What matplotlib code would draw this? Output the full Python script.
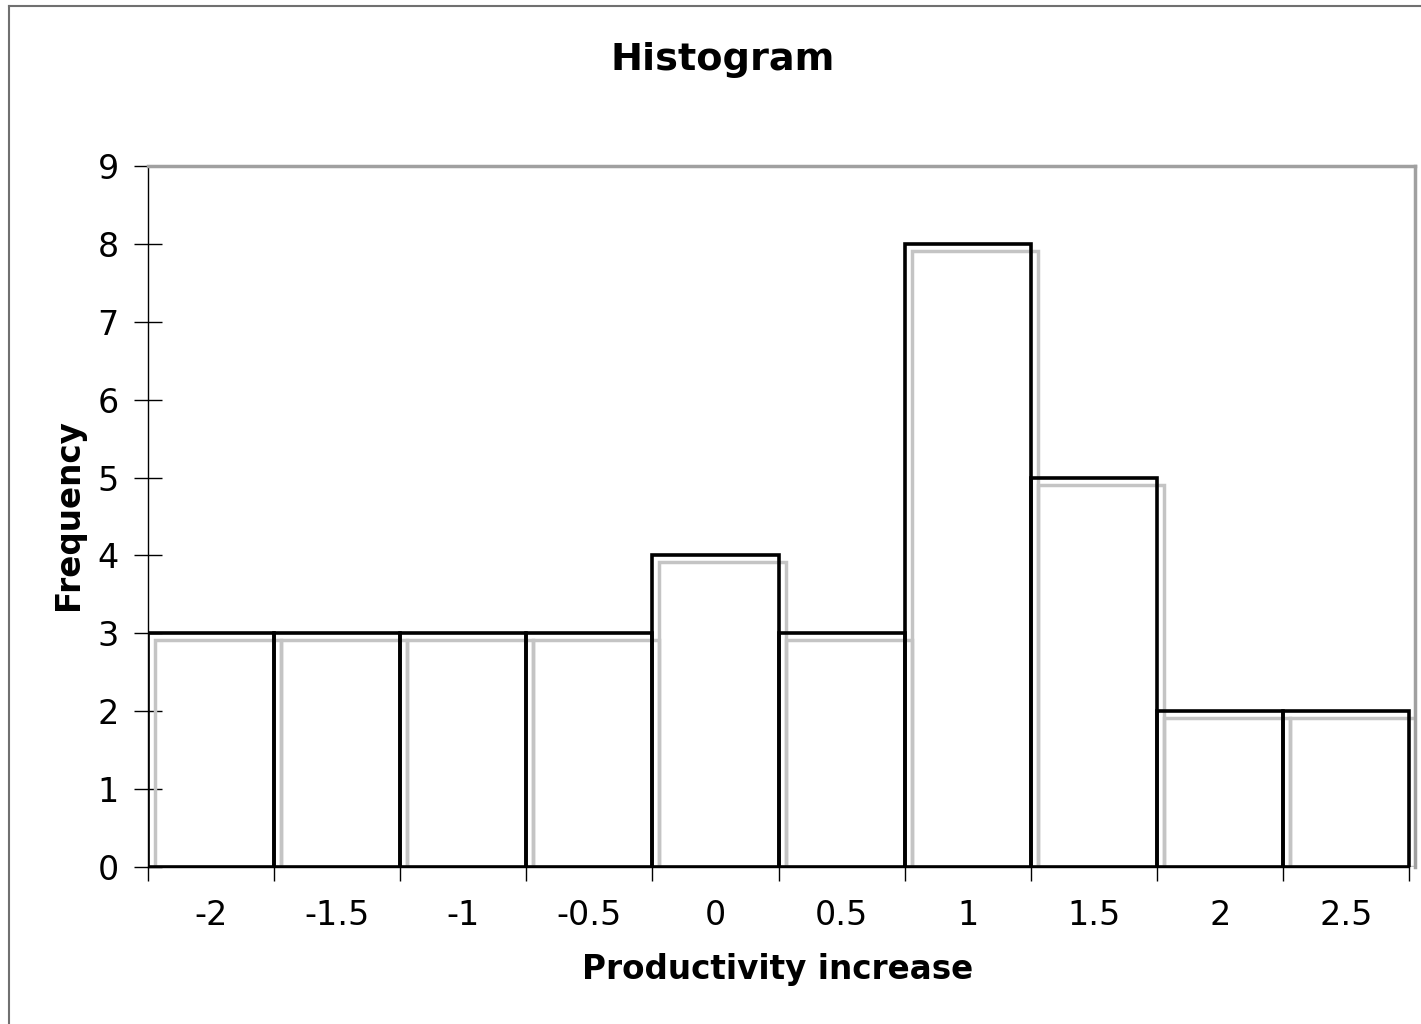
import matplotlib.pyplot as plt
from matplotlib.patches import Rectangle
from matplotlib.lines import Line2D

# bin centres and counts
bins = [-2, -1.5, -1, -0.5, 0, 0.5, 1, 1.5, 2, 2.5]
freq = [3, 3, 3, 3, 4, 3, 8, 5, 2, 2]
tick_labels = ['-2', '-1.5', '-1', '-0.5', '0', '0.5', '1', '1.5', '2', '2.5']

W, H = 1421, 1024
fig = plt.figure(figsize=(W / 100, H / 100), dpi=100)

# axes box in pixels: left 148, right 1415 (gray frame), top 166, bottom 867
x0, x1, y0, y1 = 148, 1415, 166, 867
ax = fig.add_axes([x0 / W, 1 - y1 / H, (x1 - x0) / W, (y1 - y0) / H])

n = len(freq)
bw = (1409 - 148) / n  # px per category
ax.set_xlim(0, (x1 - x0) / bw)
ax.set_ylim(0, 9)

# shadow offset in data units (~7 px)
dx = 7 / bw
dy = 7 / ((y1 - y0) / 9)

for i, f in enumerate(freq):
    # gray shadow drawn first
    ax.add_patch(Rectangle((i + dx, 0), 1, f - dy, fill=False,
                           edgecolor='#c4c4c4', lw=2.5, zorder=2))
    ax.add_patch(Rectangle((i, 0), 1, f, facecolor='none',
                           edgecolor='black', lw=2.6, zorder=3))

for s in ['top', 'right']:
    ax.spines[s].set_color('#a0a0a0')
    ax.spines[s].set_linewidth(2.5)
for s in ['left', 'bottom']:
    ax.spines[s].set_color('black')
    ax.spines[s].set_linewidth(1.0)
ax.spines['bottom'].set_bounds(0, n)

ax.set_yticks(range(0, 10))
ax.tick_params(axis='y', direction='inout', length=20, width=1, labelsize=24, pad=11)
ax.set_xticks(range(0, n + 1))
ax.set_xticklabels([])
ax.set_xticks([i + 0.5 for i in range(n)], minor=True)
ax.set_xticklabels(tick_labels, minor=True)
ax.tick_params(axis='x', which='major', direction='out', length=10, width=1)
ax.tick_params(axis='x', which='minor', length=0, labelsize=24, pad=23)

fig.text(723 / W, 1 - 60 / H, 'Histogram', ha='center', va='center',
         fontsize=27.5, fontweight='bold')
fig.text(778 / W, 1 - 970 / H, 'Productivity increase', ha='center', va='center',
         fontsize=23.5, fontweight='bold')
fig.text(68 / W, 1 - 515 / H, 'Frequency', ha='center', va='center',
         rotation=90, fontsize=23.5, fontweight='bold')

# outer chart border (left and top visible)
fig.add_artist(Line2D([9 / W, 9 / W], [0, 1 - 6 / H], color='#707070', lw=1.5))
fig.add_artist(Line2D([9 / W, 1], [1 - 6 / H, 1 - 6 / H], color='#707070', lw=1.5))

fig.savefig('out.png', dpi=100)
